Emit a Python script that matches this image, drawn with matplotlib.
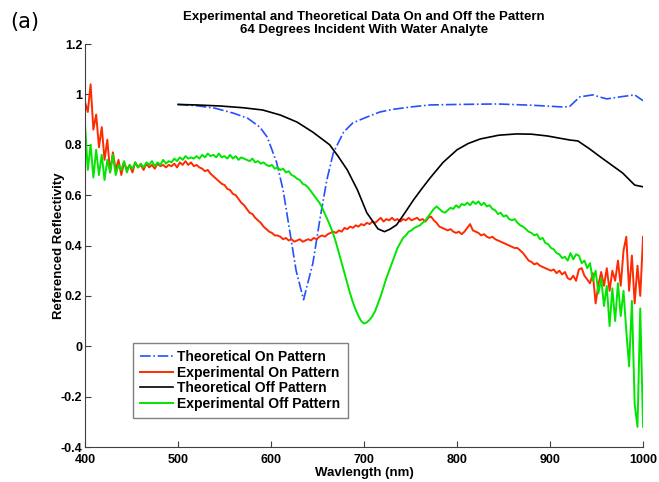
import numpy as np
import matplotlib.pyplot as plt

# experimental spectra sampled every 3 nm from 400 to 1000 nm
exp_wl = np.arange(400, 1001, 3)

exp_on = [
    0.97, 0.93, 1.04, 0.86, 0.92, 0.79, 0.87, 0.74, 0.82, 0.69,
    0.77, 0.70, 0.74, 0.68, 0.73, 0.70, 0.72, 0.69, 0.73, 0.71,
    0.72, 0.70, 0.725, 0.71, 0.72, 0.705, 0.725, 0.715, 0.72, 0.71,
    0.72, 0.715, 0.725, 0.71, 0.73, 0.72, 0.735, 0.72, 0.73, 0.715,
    0.72, 0.71, 0.705, 0.695, 0.70, 0.685, 0.675, 0.665, 0.655, 0.645,
    0.64, 0.625, 0.62, 0.605, 0.60, 0.585, 0.57, 0.56, 0.545, 0.53,
    0.525, 0.51, 0.50, 0.49, 0.475, 0.465, 0.455, 0.45, 0.44, 0.44,
    0.435, 0.425, 0.43, 0.42, 0.425, 0.415, 0.42, 0.425, 0.415, 0.42,
    0.425, 0.42, 0.43, 0.425, 0.435, 0.44, 0.435, 0.445, 0.45, 0.455,
    0.45, 0.46, 0.455, 0.47, 0.465, 0.475, 0.47, 0.48, 0.475, 0.485,
    0.48, 0.49, 0.485, 0.495, 0.49, 0.50, 0.51, 0.495, 0.505, 0.50,
    0.51, 0.50, 0.505, 0.495, 0.505, 0.50, 0.51, 0.50, 0.505, 0.51,
    0.50, 0.505, 0.495, 0.51, 0.515, 0.50, 0.49, 0.475, 0.47, 0.465,
    0.46, 0.465, 0.455, 0.45, 0.455, 0.445, 0.455, 0.47, 0.485, 0.46,
    0.455, 0.45, 0.44, 0.445, 0.435, 0.43, 0.435, 0.425, 0.42, 0.415,
    0.41, 0.405, 0.40, 0.395, 0.39, 0.39, 0.38, 0.37, 0.355, 0.34,
    0.335, 0.325, 0.33, 0.32, 0.315, 0.31, 0.305, 0.30, 0.305, 0.29,
    0.30, 0.285, 0.295, 0.27, 0.265, 0.28, 0.26, 0.305, 0.31, 0.28,
    0.265, 0.25, 0.29, 0.17, 0.245, 0.295, 0.24, 0.31, 0.22, 0.30,
    0.26, 0.34, 0.24, 0.38, 0.435, 0.22, 0.36, 0.17, 0.32, 0.20,
    0.435,
]

exp_off = [
    0.88, 0.70, 0.80, 0.67, 0.78, 0.68, 0.76, 0.66, 0.74, 0.69,
    0.76, 0.68, 0.72, 0.70, 0.735, 0.69, 0.72, 0.705, 0.73, 0.71,
    0.725, 0.71, 0.73, 0.72, 0.735, 0.715, 0.73, 0.72, 0.74, 0.725,
    0.735, 0.73, 0.745, 0.735, 0.75, 0.74, 0.755, 0.745, 0.75, 0.745,
    0.755, 0.745, 0.76, 0.75, 0.765, 0.755, 0.76, 0.75, 0.765, 0.75,
    0.755, 0.745, 0.76, 0.745, 0.755, 0.74, 0.75, 0.745, 0.74, 0.735,
    0.745, 0.73, 0.735, 0.725, 0.73, 0.72, 0.715, 0.72, 0.705, 0.71,
    0.70, 0.705, 0.69, 0.695, 0.68, 0.675, 0.665, 0.66, 0.645, 0.64,
    0.63, 0.615, 0.60, 0.585, 0.57, 0.55, 0.525, 0.50, 0.475, 0.445,
    0.41, 0.37, 0.33, 0.29, 0.25, 0.21, 0.175, 0.145, 0.12, 0.10,
    0.09, 0.095, 0.105, 0.12, 0.14, 0.17, 0.20, 0.235, 0.27, 0.30,
    0.33, 0.36, 0.39, 0.41, 0.43, 0.44, 0.455, 0.46, 0.47, 0.475,
    0.48, 0.49, 0.50, 0.515, 0.53, 0.545, 0.555, 0.545, 0.535, 0.53,
    0.54, 0.55, 0.545, 0.56, 0.55, 0.565, 0.56, 0.57, 0.56, 0.575,
    0.565, 0.575, 0.56, 0.57, 0.555, 0.56, 0.545, 0.54, 0.525, 0.53,
    0.515, 0.52, 0.505, 0.50, 0.505, 0.49, 0.48, 0.475, 0.465, 0.455,
    0.45, 0.44, 0.445, 0.425, 0.43, 0.41, 0.405, 0.39, 0.385, 0.37,
    0.365, 0.35, 0.355, 0.34, 0.37, 0.345, 0.365, 0.36, 0.33, 0.34,
    0.31, 0.33, 0.26, 0.30, 0.21, 0.27, 0.16, 0.24, 0.08, 0.23,
    0.10, 0.25, 0.12, 0.22, 0.06, -0.08, 0.18, -0.23, -0.32, 0.15,
    -0.32,
]

# theoretical curves (smooth)
th_on_wl = [500, 520, 540, 560, 575, 588, 596, 606, 613, 620, 627, 635, 645,
            653, 660, 667, 678, 688, 703, 717, 730, 750, 771, 800, 843, 880,
            914, 921, 932, 946, 953, 961, 975, 991, 1000]
th_on = [0.96, 0.955, 0.945, 0.925, 0.905, 0.87, 0.83, 0.73, 0.62, 0.46, 0.30,
         0.185, 0.33, 0.514, 0.66, 0.768, 0.85, 0.887, 0.91, 0.93, 0.94, 0.95,
         0.958, 0.96, 0.962, 0.957, 0.95, 0.952, 0.99, 0.998, 0.99, 0.982,
         0.99, 0.998, 0.975]

th_off_wl = [500, 520, 545, 570, 591, 610, 628, 645, 663, 672, 682, 693, 703,
             715, 722, 728, 735, 744, 753, 762, 771, 785, 800, 812, 825, 845,
             864, 880, 897, 912, 921, 930, 942, 954, 966, 978, 991, 1000]
th_off = [0.96, 0.958, 0.954, 0.947, 0.938, 0.918, 0.89, 0.85, 0.80, 0.755,
          0.70, 0.62, 0.53, 0.466, 0.455, 0.465, 0.482, 0.53, 0.58, 0.625,
          0.668, 0.73, 0.78, 0.805, 0.823, 0.838, 0.843, 0.842, 0.835, 0.825,
          0.819, 0.815, 0.785, 0.752, 0.72, 0.688, 0.64, 0.633]

plt.rcParams['font.family'] = ['Liberation Sans Narrow', 'Liberation Sans', 'DejaVu Sans']
plt.rcParams['font.weight'] = 'bold'

fig = plt.figure(figsize=(6.59, 4.82), dpi=100)
ax = fig.add_axes([0.129, 0.0726, 0.8468, 0.8361])

ax.plot(th_on_wl, th_on, '-.', color='#2450ff', linewidth=1.2, label='Theoretical On Pattern')
ax.plot(exp_wl, exp_on, '-', color='#ff2a00', linewidth=1.4, label='Experimental On Pattern')
ax.plot(th_off_wl, th_off, '-', color='black', linewidth=1.2, label='Theoretical Off Pattern')
ax.plot(exp_wl, exp_off, '-', color='#00e600', linewidth=1.4, label='Experimental Off Pattern')

ax.set_xlim(400, 1000)
ax.set_ylim(-0.4, 1.2)
ax.set_xticks(np.arange(400, 1001, 100))
ax.set_yticks(np.arange(-0.4, 1.21, 0.2))
ax.set_yticklabels(['-0.4', '-0.2', '0', '0.2', '0.4', '0.6', '0.8', '1', '1.2'])
ax.spines['top'].set_visible(False)
ax.spines['right'].set_visible(False)
for s in ['left', 'bottom']:
    ax.spines[s].set_color('#404040')
ax.tick_params(direction='in', length=4, labelsize=9, colors='#404040', labelcolor='black', pad=2)
ax.tick_params(axis='x', pad=5)
for lbl in ax.get_xticklabels() + ax.get_yticklabels():
    lbl.set_fontweight('bold')

ax.set_xlabel('Wavlength (nm)', fontsize=9.5, fontweight='bold')
ax.set_ylabel('Referenced Reflectivity', fontsize=9.5, fontweight='bold')
ax.xaxis.set_label_coords(0.5, -0.05)
ax.yaxis.set_label_coords(-0.036, 0.5)
ax.set_title('Experimental and Theoretical Data On and Off the Pattern\n'
             '64 Degrees Incident With Water Analyte',
             fontsize=9.5, fontweight='bold', pad=8, linespacing=1.15)

leg = ax.legend(loc='upper left', bbox_to_anchor=(0.086, 0.258), fontsize=10,
                frameon=True, fancybox=False, handlelength=2.4, handletextpad=0.3,
                borderpad=0.5, labelspacing=0.12, borderaxespad=0)
leg.get_frame().set_edgecolor('#606060')
leg.get_frame().set_linewidth(1.0)
for t in leg.get_texts():
    t.set_fontweight('bold')

fig.text(0.015, 0.955, '(a)', fontsize=15, fontweight='normal',
         family='DejaVu Sans', va='center', ha='left')

fig.savefig('out.png', dpi=100)
